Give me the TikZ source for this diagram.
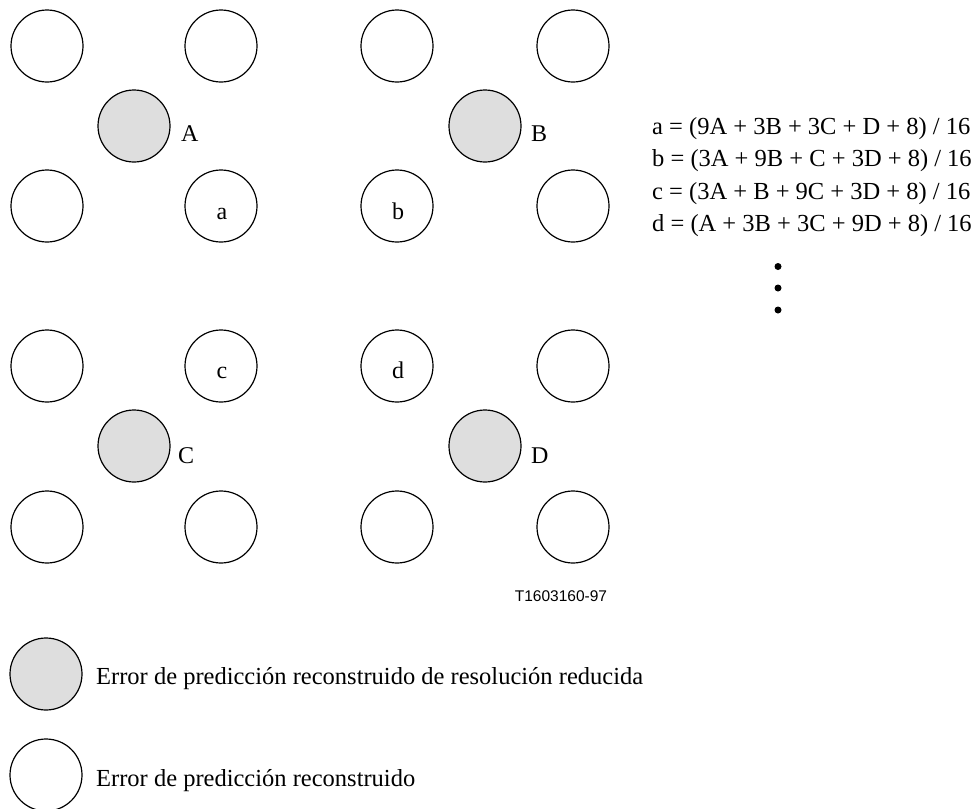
\documentclass[tikz,border=0pt]{standalone}
\usepackage{fontspec}
\setmainfont{Liberation Serif}
\newfontfamily\labsans{Liberation Sans}
\definecolor{fillgray}{RGB}{222,222,222}
\begin{document}
\begin{tikzpicture}[x=1pt,y=-1pt,
  pix/.style={circle,draw=black,line width=1.2pt,minimum size=72pt,inner sep=0pt},
  graypix/.style={pix,fill=fillgray},
  lab/.style={anchor=base west,inner sep=0pt,font=\fontsize{24}{28}\selectfont},
  inlab/.style={anchor=base,inner sep=0pt,font=\fontsize{24}{28}\selectfont},
  eqn/.style={anchor=base west,inner sep=0pt,font=\fontsize{24.5}{28}\selectfont},
  legtext/.style={anchor=base west,inner sep=0pt,font=\fontsize{24.5}{28}\selectfont},
  dotm/.style={circle,fill=black,inner sep=0pt,minimum size=7pt}]
\useasboundingbox (0,0) rectangle (978,809);
% top block
\node[pix] (p11) at (47,46) {};
\node[pix] (p12) at (221,46) {};
\node[pix] (p13) at (397,46) {};
\node[pix] (p14) at (573,46) {};
\node[graypix] (gA) at (134,126) {};
\node[graypix] (gB) at (485,126) {};
\node[pix] (p31) at (47,206) {};
\node[pix] (pa) at (221,206) {};
\node[pix] (pb) at (397,206) {};
\node[pix] (p34) at (573,206) {};
% bottom block
\node[pix] (p41) at (47,366) {};
\node[pix] (pc) at (221,366) {};
\node[pix] (pd) at (397,366) {};
\node[pix] (p44) at (573,366) {};
\node[graypix] (gC) at (134,446) {};
\node[graypix] (gD) at (485,446) {};
\node[pix] (p61) at (47,527) {};
\node[pix] (p62) at (221,527) {};
\node[pix] (p63) at (397,527) {};
\node[pix] (p64) at (573,527) {};
% labels
\node[lab] (lA) at (181,141) {A};
\node[lab] (lB) at (531,141) {B};
\node[lab] (lC) at (178,463) {C};
\node[lab] (lD) at (531,463) {D};
\node[inlab] (la) at (222,219) {a};
\node[inlab] (lb) at (398,219) {b};
\node[inlab] (lc) at (222,378) {c};
\node[inlab] (ld) at (398,378) {d};
% equations
\node[eqn] (e1) at (652,134) {a = (9A + 3B + 3C + D + 8) / 16};
\node[eqn] (e2) at (652,166.5) {b = (3A + 9B + C + 3D + 8) / 16};
\node[eqn] (e3) at (652,199) {c = (3A + B + 9C + 3D + 8) / 16};
\node[eqn] (e4) at (652,231.5) {d = (A + 3B + 3C + 9D + 8) / 16};
\node[dotm] (d1) at (778,266.5) {};
\node[dotm] (d2) at (778,288) {};
\node[dotm] (d3) at (778,310) {};
% figure id
\node[inner sep=0pt,font=\labsans\fontsize{15.5}{18}\selectfont] (fid) at (561,596) {T1603160-97};
% legend
\node[graypix] (leg1) at (46,674) {};
\node[legtext] (legt1) at (96,684) {Error de predicción reconstruido de resolución reducida};
\node[pix] (leg2) at (46,775) {};
\node[legtext] (legt2) at (96,786) {Error de predicción reconstruido};
\end{tikzpicture}
\end{document}
